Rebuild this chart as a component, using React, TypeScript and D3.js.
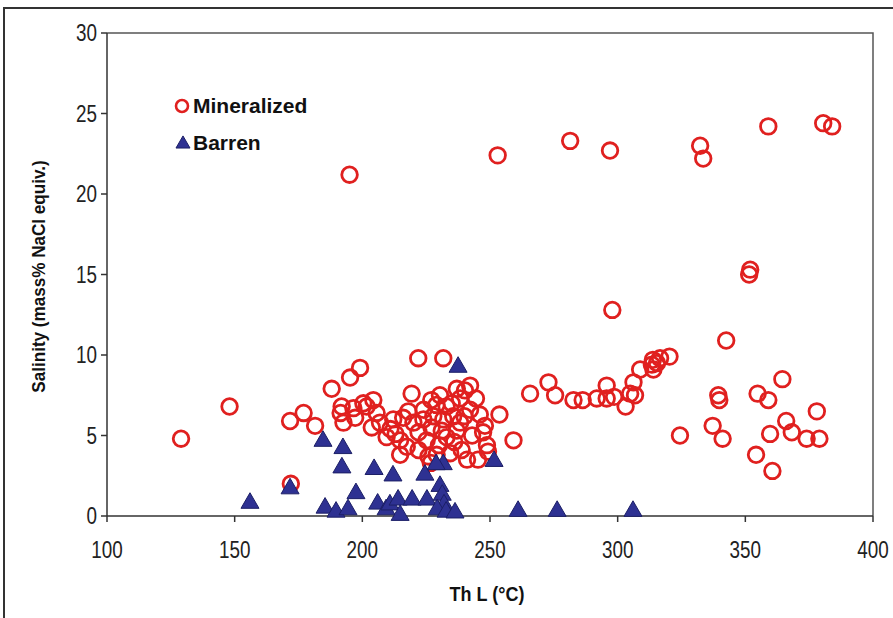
import * as d3 from 'd3';

const W = 893, H = 618;
const M = { left: 107, right: 873, top: 33, bottom: 516 };

const X_TICKS = [100, 150, 200, 250, 300, 350, 400];
const Y_TICKS = [0, 5, 10, 15, 20, 25, 30];

// [Th L (°C), salinity]
const MINERALIZED: [number, number][] = [
  [129, 4.8], [148, 6.8], [172, 2.0], [171.7, 5.9], [177, 6.4], [181.5, 5.6], [188, 7.9],
  [191.9, 6.8], [192.6, 5.8], [191.5, 6.4], [195.2, 8.6], [199.1, 9.2], [196.5, 6.7], [197.2, 6.1],
  [200.4, 7.0], [195, 21.2], [201.7, 6.8], [204.3, 7.2], [205.6, 6.4], [203.7, 5.5], [206.9, 5.8],
  [209.5, 4.9], [212.1, 6.0], [216, 6.1], [214.8, 4.7], [214.8, 3.8], [217.4, 4.3], [219.3, 7.6],
  [220, 5.8], [221.9, 9.8], [222, 4.1], [223.9, 6.0], [225.2, 4.7], [225.9, 3.7], [227, 7.2],
  [227.1, 5.5], [227.8, 6.2], [229.1, 3.8], [230.4, 7.5], [231.1, 5.3], [231.7, 9.8], [231.7, 6.0],
  [233, 6.8], [233, 4.9], [234.4, 3.9], [235.6, 6.2], [237, 7.9], [237, 5.3], [238.3, 7.3],
  [238.3, 5.8], [238.9, 4.1], [240.2, 7.8], [242.2, 8.1], [244.5, 7.3], [242.2, 6.6], [246, 6.3],
  [248, 5.6], [247.3, 5.2], [248.8, 4.4], [249.2, 4.0], [245.3, 3.5], [241, 3.5], [253.7, 6.3],
  [259.2, 4.7], [226.8, 3.3], [211, 5.4], [218, 6.5], [224, 6.6], [229, 6.9], [235, 7.0],
  [240, 6.2], [243, 5.0], [236, 4.6], [230, 4.4], [222, 5.2], [213, 5.1],
  [265.7, 7.6], [272.9, 8.3], [275.5, 7.5], [282.7, 7.2], [286.3, 7.2], [291.8, 7.3], [295.7, 8.1],
  [295.7, 7.3], [298.6, 7.4], [303.1, 6.8], [304.9, 7.6], [306.8, 7.5], [306.2, 8.3], [308.8, 9.1],
  [313.4, 9.4], [313.8, 9.7], [315.4, 9.5], [316.6, 9.8], [320.3, 9.9], [314, 9.1],
  [297.9, 12.8], [253, 22.4], [281.4, 23.3], [297, 22.7], [332.3, 23.0], [333.5, 22.2], [359, 24.2],
  [380.5, 24.4], [384, 24.2], [351.9, 15.3], [351.5, 15.0], [342.5, 10.9],
  [324.4, 5.0], [337.2, 5.6], [341.1, 4.8], [339.4, 7.5], [339.8, 7.2], [354.2, 3.8], [360.6, 2.8],
  [359.7, 5.1], [354.8, 7.6], [359, 7.2], [364.5, 8.5], [366, 5.9], [368.2, 5.2], [374, 4.8],
  [378, 6.5], [379, 4.8],
];

const BARREN: [number, number][] = [
  [156, 0.8], [171.7, 1.7], [184.6, 4.65], [192.4, 4.2], [192, 3.0], [197.5, 1.4], [185.4, 0.5],
  [189.7, 0.25], [194.4, 0.4], [204.6, 2.9], [206, 0.75], [209.3, 0.4], [212, 2.5], [210.8, 0.7],
  [214, 1.0], [214.8, 0.05], [219.5, 1.0], [224.5, 2.55], [225.3, 1.0], [231.7, 3.2], [228.9, 3.2],
  [230.4, 1.85], [231.3, 1.3], [232, 0.7], [229.3, 0.4], [232.8, 0.25], [236.3, 0.2], [237.5, 9.25],
  [251.6, 3.4], [261, 0.3], [276.3, 0.3], [306, 0.3],
];

const RED = '#e0201f';
const NAVY = '#2e3192';
const FONT = "'Liberation Sans', Arial, sans-serif";

const tri = d3.symbol().type(d3.symbolTriangle).size(140)();

export default function App() {
  const x = d3.scaleLinear().domain([100, 400]).range([M.left, M.right]);
  const y = d3.scaleLinear().domain([0, 30]).range([M.bottom, M.top]);

  return (
    <svg width={W} height={H} style={{ position: 'fixed', left: 0, top: 0, background: '#fff' }}>
      <rect x={0} y={0} width={W} height={H} fill="#fff" />
      {/* outer frame */}
      <path d={`M4,${H} V8 H${W}`} fill="none" stroke="#333" strokeWidth={2} />

      {/* plot frame */}
      <path d={`M${M.left},${M.top} H${M.right} V${M.bottom}`} fill="none" stroke="#555" strokeWidth={1.5} />

      {/* y axis */}
      <line x1={M.left} x2={M.left} y1={M.top} y2={M.bottom} stroke="#333" strokeWidth={1.5} />
      {Y_TICKS.map(t => (
        <g key={t}>
          <line x1={M.left - 6} x2={M.left} y1={y(t)} y2={y(t)} stroke="#333" strokeWidth={1.5} />
          <text transform={`translate(${M.left - 10},${y(t)}) scale(0.82,1)`} dy="0.36em" textAnchor="end"
            fontFamily={FONT} fontSize={23} fill="#222">{t}</text>
        </g>
      ))}

      {/* x axis */}
      <line x1={M.left} x2={M.right} y1={M.bottom} y2={M.bottom} stroke="#333" strokeWidth={1.5} />
      {X_TICKS.map(t => (
        <g key={t}>
          <line x1={x(t)} x2={x(t)} y1={M.bottom} y2={M.bottom + 6} stroke="#333" strokeWidth={1.5} />
          <text transform={`translate(${x(t)},${M.bottom + 34}) scale(0.82,1)`} dy="0.36em" textAnchor="middle"
            fontFamily={FONT} fontSize={23} fill="#222">{t}</text>
        </g>
      ))}

      {/* axis titles */}
      <text transform={`translate(38,${(M.top + M.bottom) / 2 + 2}) rotate(-90) scale(0.9,1)`} textAnchor="middle"
        dy="0.35em" fontFamily={FONT} fontWeight="bold" fontSize={19} fill="#111">
        Salinity (mass% NaCl equiv.)
      </text>
      <text transform={`translate(487,594) scale(0.9,1)`} textAnchor="middle" dy="0.35em" fontFamily={FONT}
        fontWeight="bold" fontSize={20} fill="#111">Th L (°C)</text>

      {/* data */}
      {MINERALIZED.map(([a, b], i) => (
        <circle key={'m' + i} cx={x(a)} cy={y(b)} r={7.8} fill="none" stroke={RED} strokeWidth={2.8} />
      ))}
      {BARREN.map(([a, b], i) => (
        <path key={'b' + i} d={tri!} transform={`translate(${x(a)},${y(b)})`} fill={NAVY}
          stroke="#1c1f66" strokeWidth={1} />
      ))}

      {/* legend */}
      <circle cx={182} cy={106} r={6} fill="none" stroke={RED} strokeWidth={2.6} />
      <text x={193} y={106} dy="0.35em" fontFamily={FONT} fontWeight="bold" fontSize={21} fill="#111">
        Mineralized
      </text>
      <path d={d3.symbol().type(d3.symbolTriangle).size(85)()!} transform="translate(183,144)" fill={NAVY}
        stroke="#1c1f66" strokeWidth={1} />
      <text x={193} y={143} dy="0.35em" fontFamily={FONT} fontWeight="bold" fontSize={21} fill="#111">
        Barren
      </text>
    </svg>
  );
}
